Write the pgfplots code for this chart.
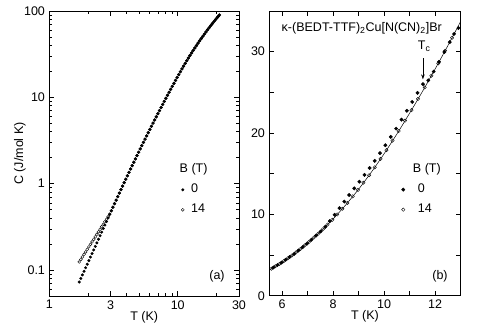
\documentclass[border=0pt]{standalone}
\usepackage{fontspec}
\setmainfont{Liberation Sans}
\usepackage{pgfplots}
\usepackage{pgfplotstable}
\pgfplotsset{compat=1.18}
\usetikzlibrary{arrows.meta}

\newcommand{\fs}{\fontsize{12.5}{15}\selectfont}

% (a) specific heat, log-log: T, C at B=0 and B=14 T
\pgfplotstableread{
T C0 C14
1.710 0.0726 0.1239
1.760 0.0798 0.1325
1.811 0.0878 0.1417
1.864 0.0966 0.1515
1.919 0.1062 0.1620
1.975 0.1168 0.1733
2.032 0.1284 0.1853
2.091 0.1412 0.1981
2.153 0.1552 0.2119
2.216 0.1707 0.2266
2.280 0.1877 0.2423
2.347 0.2064 0.2591
2.415 0.2270 0.2771
2.486 0.2496 0.2963
2.558 0.2745 0.3169
2.633 0.3018 0.3389
2.710 0.3319 0.3624
2.789 0.3650 0.3875
2.871 0.4013 0.4145
2.955 0.4413 0.4433
3.041 0.4853 0.4853
3.130 0.5336 0.5336
3.221 0.5867 0.5867
3.315 0.6447 0.6447
3.412 0.7085 0.7085
3.512 0.7779 0.7779
3.614 0.8540 0.8540
3.720 0.9370 0.9370
3.828 1.028 1.028
3.940 1.126 1.126
4.055 1.234 1.234
4.173 1.351 1.351
4.295 1.480 1.480
4.420 1.619 1.619
4.549 1.772 1.772
4.682 1.937 1.937
4.819 2.118 2.118
4.960 2.313 2.313
5.104 2.526 2.526
5.253 2.757 2.757
5.407 3.008 3.008
5.565 3.280 3.280
5.727 3.577 3.577
5.894 3.897 3.897
6.066 4.245 4.245
6.243 4.621 4.621
6.426 5.030 5.030
6.614 5.471 5.471
6.806 5.950 5.950
7.005 6.464 6.464
7.209 7.023 7.023
7.420 7.625 7.625
7.637 8.278 8.278
7.860 8.979 8.979
8.089 9.739 9.739
8.325 10.56 10.56
8.568 11.44 11.44
8.818 12.39 12.39
9.076 13.41 13.41
9.341 14.51 14.51
9.613 15.70 15.70
9.894 16.97 16.97
10.18 18.34 18.34
10.48 19.79 19.79
10.79 21.35 21.35
11.10 22.97 22.97
11.43 24.72 24.72
11.76 26.54 26.54
12.10 28.49 28.49
12.45 30.51 30.51
12.82 32.68 32.68
13.19 34.91 34.91
13.58 37.29 37.29
13.98 39.74 39.74
14.38 42.36 42.36
14.80 45.07 45.07
15.24 47.95 47.95
15.69 50.91 50.91
16.14 54.06 54.06
16.61 57.29 57.29
17.09 60.71 60.71
17.59 64.21 64.21
18.11 67.92 67.92
18.64 71.71 71.71
19.18 75.70 75.70
19.74 79.79 79.79
20.32 84.10 84.10
20.70 86.92 86.92
21.09 89.80 89.80
}\lefttab

% (b) linear scale, B = 14 T
\pgfplotstableread{
T C
5.58 3.32
5.74 3.62
5.90 3.92
6.06 4.24
6.22 4.59
6.38 4.94
6.55 5.33
6.72 5.75
6.89 6.18
7.06 6.62
7.24 7.13
7.42 7.63
7.60 8.17
7.78 8.74
7.97 9.33
8.16 9.99
8.36 10.69
8.56 11.41
8.77 12.21
8.98 13.01
9.19 13.89
9.41 14.81
9.63 15.78
9.86 16.82
10.09 17.90
10.33 19.06
10.57 20.24
10.82 21.52
11.07 22.81
11.33 24.20
11.59 25.60
11.85 27.05
12.12 28.57
12.39 30.13
12.66 31.71
}\openB

% (b) B = 0
\pgfplotstableread{
T C
5.66 3.47
5.82 3.77
5.98 4.07
6.14 4.42
6.30 4.76
6.47 5.13
6.64 5.55
6.81 5.98
6.98 6.40
7.15 6.87
7.33 7.38
7.51 7.89
7.69 8.46
7.87 9.17
8.06 9.94
8.25 10.76
8.44 11.57
8.63 12.38
8.83 13.19
9.03 14.02
9.23 14.86
9.43 15.70
9.63 16.58
9.84 17.53
10.05 18.50
10.26 19.52
10.47 20.54
10.68 21.65
10.89 22.73
11.10 23.82
11.31 24.94
11.52 26.01
11.73 26.48
11.94 27.55
12.15 28.74
12.36 29.95
12.57 31.17
12.74 32.18
12.91 32.90
}\fillB

% (b) normal-state line
\pgfplotstableread{
T C
5.5 3.17
6.0 4.11
6.5 5.20
7.0 6.45
7.5 7.86
8.0 9.43
8.5 11.18
9.0 13.09
9.5 15.19
10.0 17.46
10.5 19.88
11.0 22.44
11.5 25.10
12.0 27.88
12.5 30.76
13.0 33.72
}\fitB

\pgfplotsset{
  panel/.style={
    scale only axis,
    axis line style={line width=0.6pt},
    every tick/.style={black,line width=0.6pt},
    major tick length=5pt,
    minor tick length=3pt,
    tick label style={font=\fs},
    label style={font=\fs},
    /pgf/number format/assume math mode=true,
    xlabel style={at={(axis description cs:0.5,-0.073)},anchor=center},
    legend cell align=left,
    legend image code/.code={\draw[##1] plot coordinates {(0pt,0pt)};},
    legend style={draw=none,fill=none,font=\fs,inner sep=0pt,row sep=6pt,
      nodes={inner sep=1pt,text height=9pt,text depth=3pt}},
  },
  zero/.style={only marks,mark=*,mark size=1.3pt,black},
  fourteen/.style={only marks,mark=o,mark size=1.45pt,black,
    mark options={fill=white,line width=0.4pt}},
}

\begin{document}
\fs
\begin{tikzpicture}
\path[use as bounding box] (0,0) rectangle (491pt,325pt);

\begin{axis}[panel,
  at={(49.3pt,29pt)}, anchor=south west,
  width=189.7pt, height=285pt,
  xmode=log, ymode=log,
  xmin=1, xmax=30, ymin=0.05, ymax=100,
  xtick={1,3,10,30}, xticklabels={1,3,10,30},
  minor xtick={2,4,5,6,7,8,9,20},
  ytick={0.1,1,10,100}, yticklabels={0.1,1,10,100},
  minor ytick={0.05,0.06,0.07,0.08,0.09,0.2,0.3,0.4,0.5,0.6,0.7,0.8,0.9,2,3,4,5,6,7,8,9,20,30,40,50,60,70,80,90},
  xlabel={T (K)}, ylabel={C (J/mol K)},
  ylabel style={at={(axis description cs:-0.155,0.5)},anchor=center},
  legend style={at={(0.695,0.468)},anchor=north west,
    /tikz/every odd column/.append style={column sep=6pt}},
]
\addlegendimage{empty legend}
\addlegendentry{\hspace*{-11.5pt}B (T)}
\addplot[zero] table[x=T,y=C0]{\lefttab};
\addlegendentry{0}
\addplot[fourteen] table[x=T,y=C14]{\lefttab};
\addlegendentry{14}
\node[font=\fs] at (rel axis cs:0.884,0.070) {(a)};
\end{axis}

\begin{axis}[panel,
  at={(269.3pt,29.3pt)}, anchor=south west,
  width=191.4pt, height=284.7pt,
  xmin=5.5, xmax=13, ymin=0, ymax=35,
  xtick={6,...,13}, xticklabels={6,,8,,10,,12,},
  ytick={0,5,...,35}, yticklabels={0,,10,,20,,30,},
  xlabel={T (K)},
  legend style={at={(0.690,0.468)},anchor=north west,
    /tikz/every odd column/.append style={column sep=12pt}},
]
\addlegendimage{empty legend}
\addlegendentry{\hspace*{-5pt}B (T)}
\addplot[black,line width=0.5pt,smooth,forget plot] table[x=T,y=C]{\fitB};
\addplot[zero,mark size=1.7pt] table[x=T,y=C]{\fillB};
\addlegendentry{0}
\addplot[fourteen,mark size=1.7pt] table[x=T,y=C]{\openB};
\addlegendentry{14}
\node[font=\fs] at (rel axis cs:0.483,0.94) {κ-(BEDT-TTF)\textsubscript{2}Cu[N(CN)\textsubscript{2}]Br};
\node[font=\fs] at (axis cs:11.57,30.7) {T\textsubscript{c}};
\draw[-{Stealth[length=5pt,width=3.5pt]},line width=0.5pt] (axis cs:11.52,29.2) -- (axis cs:11.52,26.6);
\node[font=\fs] at (rel axis cs:0.892,0.069) {(b)};
\end{axis}
\end{tikzpicture}
\end{document}
